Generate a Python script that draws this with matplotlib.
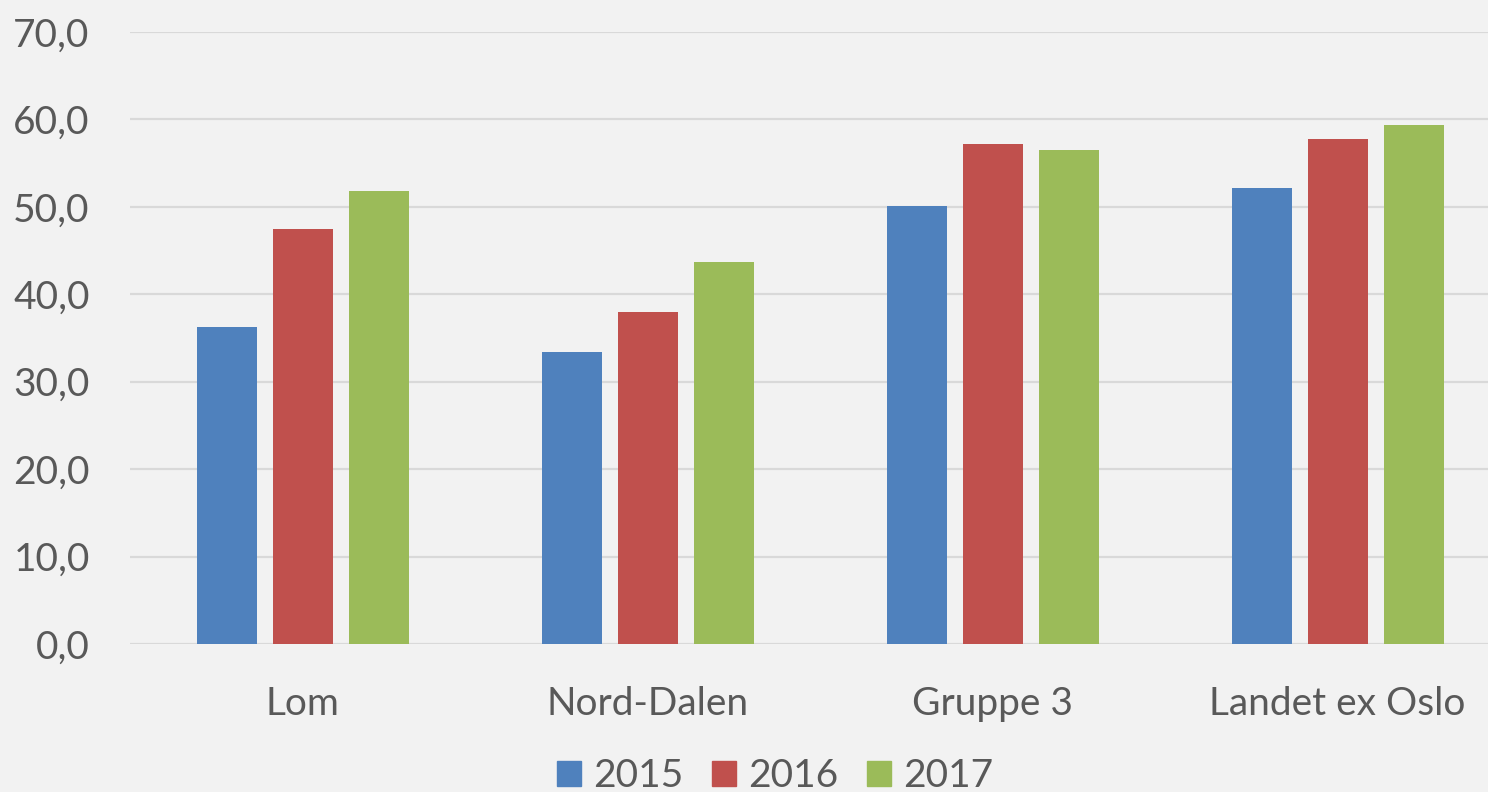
import numpy as np
import matplotlib.pyplot as plt
from matplotlib.patches import Patch

# data
categories = ['Lom', 'Nord-Dalen', 'Gruppe 3', 'Landet ex Oslo']
years = ['2015', '2016', '2017']
v2015 = [36.3, 33.4, 50.1, 52.2]
v2016 = [47.5, 38.0, 57.2, 57.8]
v2017 = [51.8, 43.7, 56.5, 59.4]
yticks = [0, 10, 20, 30, 40, 50, 60, 70]

colors = ['#4f81bd', '#c0504d', '#9bbb59']
bg = '#f2f2f2'
txt = '#595959'

plt.rcParams['font.family'] = ['Lato', 'DejaVu Sans']

fig = plt.figure(figsize=(14.88, 7.92), dpi=100, facecolor=bg)
ax = fig.add_axes([130 / 1488, 148 / 792, 1 - 130 / 1488, 612 / 792], facecolor=bg)

x = np.arange(len(categories))
width = 60 / 345
step = 76 / 345
for i, vals in enumerate([v2015, v2016, v2017]):
    ax.bar(x + (i - 1) * step, vals, width, color=colors[i], zorder=3)

ax.set_xlim(-0.5, -0.5 + (1488 - 130) / 345)
ax.set_ylim(0, 70)
ax.set_yticks(yticks)
ax.set_yticklabels([f'{t:.1f}'.replace('.', ',') for t in yticks])
ax.set_xticks(x)
ax.set_xticklabels(categories)
ax.tick_params(axis='both', length=0, labelsize=28, colors=txt)
ax.tick_params(axis='y', pad=29)
ax.tick_params(axis='x', pad=30)
ax.grid(axis='y', color='#d9d9d9', linewidth=1.6, zorder=0)
for s in ax.spines.values():
    s.set_visible(False)

handles = [Patch(color=c) for c in colors]
fig.legend(handles, years, loc='center', bbox_to_anchor=(775 / 1488, 16 / 792),
           ncol=3, frameon=False, fontsize=28, labelcolor=txt,
           handlelength=0.62, handleheight=0.62, handletextpad=0.3, columnspacing=0.75)

fig.savefig('out.png', dpi=100, facecolor=bg)
